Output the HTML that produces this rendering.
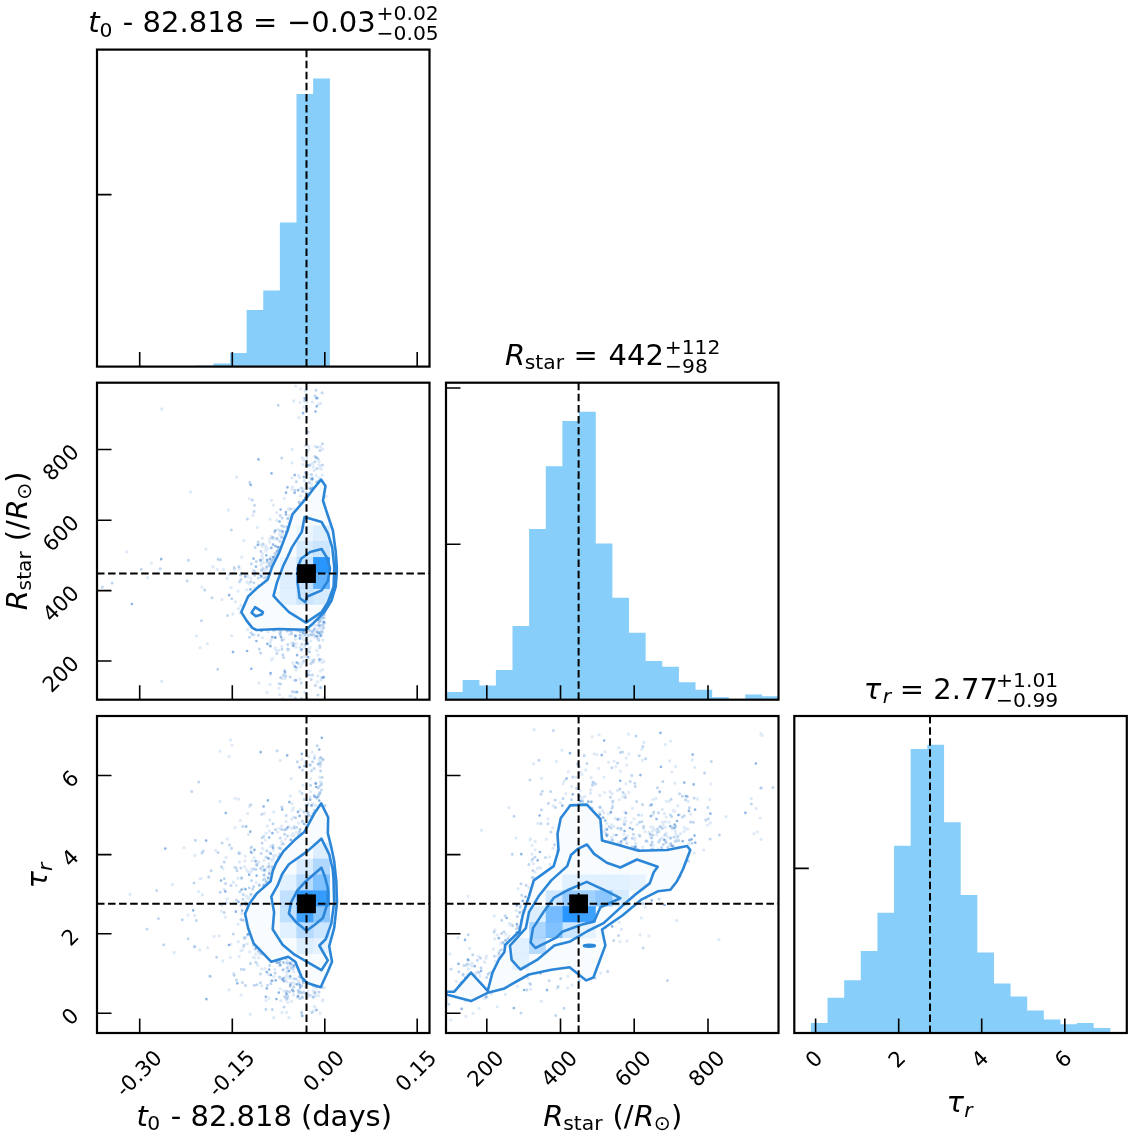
<!DOCTYPE html>
<html><head><meta charset="utf-8"><title>corner plot</title><style>html,body{margin:0;padding:0;background:#fff}svg{display:block}</style></head><body>
<svg width="1132" height="1136" viewBox="0 0 1132 1136" font-family="'DejaVu Sans','Liberation Sans',sans-serif" fill="#000">
<rect width="1132" height="1136" fill="#fff"/>
<path d="M196.75 366.6V365.6H213.53V366.6ZM213.38 366.6V363.6H230.15V366.6ZM230.00 366.6V353.0H246.78V366.6ZM246.62 366.6V310.0H263.40V366.6ZM263.25 366.6V290.5H280.02V366.6ZM279.88 366.6V222.5H296.65V366.6ZM296.50 366.6V94.0H313.27V366.6ZM313.12 366.6V78.5H329.90V366.6Z" fill="#87cefa"/>
<path d="M306.5 366.6V49.6" stroke="#000" stroke-width="2.0" stroke-dasharray="7.5 3.55"/>
<path d="M139.7 366.6v-14.5M232.3 366.6v-14.5M324.8 366.6v-14.5M417.2 366.6v-14.5M97.0 194.6h14.5" stroke="#000" stroke-width="1.6" fill="none"/>
<rect x="97.0" y="49.6" width="332.5" height="317.0" fill="none" stroke="#000" stroke-width="2.2"/>
<path d="M446.00 699.7V692.1H462.77V699.7ZM462.62 699.7V680.1H479.40V699.7ZM479.25 699.7V685.6H496.02V699.7ZM495.88 699.7V670.1H512.65V699.7ZM512.50 699.7V625.9H529.27V699.7ZM529.12 699.7V529.1H545.90V699.7ZM545.75 699.7V466.3H562.52V699.7ZM562.38 699.7V421.0H579.15V699.7ZM579.00 699.7V411.7H595.77V699.7ZM595.62 699.7V543.5H612.40V699.7ZM612.25 699.7V597.7H629.02V699.7ZM628.88 699.7V632.7H645.65V699.7ZM645.50 699.7V660.9H662.27V699.7ZM662.12 699.7V666.7H678.90V699.7ZM678.75 699.7V682.2H695.52V699.7ZM695.38 699.7V689.7H712.15V699.7ZM712.00 699.7V697.3H728.77V699.7ZM728.62 699.7V699.5H745.40V699.7ZM745.25 699.7V694.5H762.02V699.7ZM761.88 699.7V696.2H778.65V699.7Z" fill="#87cefa"/>
<path d="M578.6 699.7V382.7" stroke="#000" stroke-width="2.0" stroke-dasharray="7.5 3.55"/>
<path d="M486.8 699.7v-14.5M560.5 699.7v-14.5M634.2 699.7v-14.5M708.0 699.7v-14.5M446.0 388.0h14.5M446.0 544.2h14.5" stroke="#000" stroke-width="1.6" fill="none"/>
<rect x="446.0" y="382.7" width="332.5" height="317.0" fill="none" stroke="#000" stroke-width="2.2"/>
<path d="M810.92 1033.0V1022.9H827.70V1033.0ZM827.55 1033.0V997.8H844.32V1033.0ZM844.17 1033.0V980.2H860.95V1033.0ZM860.80 1033.0V950.9H877.57V1033.0ZM877.42 1033.0V912.7H894.20V1033.0ZM894.05 1033.0V845.7H910.82V1033.0ZM910.67 1033.0V748.9H927.45V1033.0ZM927.30 1033.0V744.7H944.07V1033.0ZM943.92 1033.0V822.2H960.70V1033.0ZM960.55 1033.0V895.1H977.32V1033.0ZM977.17 1033.0V952.5H993.95V1033.0ZM993.80 1033.0V983.5H1010.57V1033.0ZM1010.42 1033.0V996.5H1027.20V1033.0ZM1027.05 1033.0V1010.4H1043.83V1033.0ZM1043.67 1033.0V1019.6H1060.45V1033.0ZM1060.30 1033.0V1024.2H1077.08V1033.0ZM1076.92 1033.0V1022.9H1093.70V1033.0ZM1093.55 1033.0V1028.0H1110.33V1033.0Z" fill="#87cefa"/>
<path d="M930.0 1033.0V716.0" stroke="#000" stroke-width="2.0" stroke-dasharray="7.5 3.55"/>
<path d="M815.6 1033.0v-14.5M898.7 1033.0v-14.5M981.7 1033.0v-14.5M1064.8 1033.0v-14.5M794.3 868.4h14.5" stroke="#000" stroke-width="1.6" fill="none"/>
<rect x="794.3" y="716.0" width="332.5" height="317.0" fill="none" stroke="#000" stroke-width="2.2"/>
<clipPath id="c10"><rect x="97.0" y="382.7" width="332.5" height="317.0"/></clipPath>
<g clip-path="url(#c10)">
<path d="M314.7 628.5h0M240.0 612.9h0M311.8 661.0h0M269.6 572.0h0M314.8 446.3h0M324.0 661.4h0M300.5 495.9h0M324.7 502.9h0M321.6 659.6h0M254.1 587.8h0M305.9 471.9h0M292.0 477.8h0M302.2 663.5h0M320.1 687.5h0M313.6 624.8h0M288.3 509.0h0M279.1 688.3h0M276.8 520.5h0M249.0 583.3h0M303.1 491.3h0M243.8 540.7h0M292.1 489.4h0M304.4 640.0h0M267.6 566.2h0M304.3 647.1h0M229.3 574.5h0M239.2 568.7h0M310.3 478.1h0M288.7 522.2h0M303.6 459.9h0M200.0 647.8h0M299.8 679.1h0M296.1 669.9h0M321.5 626.6h0M319.8 618.6h0M272.6 658.5h0M314.7 629.5h0M325.3 507.1h0M269.8 542.2h0M263.0 559.0h0M309.4 670.9h0M265.6 548.6h0M262.4 538.3h0M305.0 692.4h0M320.3 465.8h0M318.8 464.8h0M207.4 643.8h0M276.8 512.7h0M290.0 515.5h0M317.7 629.1h0M264.3 572.4h0M321.5 469.3h0M313.1 467.0h0M277.9 529.4h0M273.4 505.2h0M310.5 464.2h0M291.6 696.0h0M295.6 639.2h0M260.4 560.2h0M300.3 635.7h0M302.0 637.7h0M236.6 477.1h0M321.3 616.6h0M303.0 464.6h0M304.6 481.0h0M285.0 678.7h0M321.2 616.0h0M247.9 575.7h0M262.5 637.7h0M304.1 634.6h0M291.1 631.6h0M276.2 649.9h0M268.4 573.9h0M272.7 563.4h0M321.9 619.5h0M249.5 498.8h0M196.6 635.9h0M315.1 631.4h0M319.3 478.0h0M269.3 539.1h0M292.7 642.9h0M262.3 571.1h0M319.2 661.1h0M299.7 477.5h0M280.2 535.6h0M322.8 669.6h0M260.4 544.6h0M303.2 636.1h0M238.4 608.6h0M161.7 409.0h0M321.3 625.7h0M268.1 631.7h0M266.6 567.1h0M300.1 631.5h0M283.9 639.2h0M289.6 634.3h0M282.6 533.4h0M286.6 526.1h0M270.4 566.0h0M305.5 484.9h0M267.0 692.4h0M303.0 458.5h0M295.9 647.3h0M272.3 560.1h0M274.6 560.9h0M324.6 623.2h0M274.4 538.9h0M320.5 671.1h0M302.1 457.8h0M279.5 632.7h0M201.9 587.1h0M231.9 635.7h0M318.1 655.2h0M258.9 683.1h0M279.5 534.2h0M298.8 417.7h0M320.5 633.2h0M282.3 639.3h0M227.2 578.4h0M271.5 500.4h0M322.0 620.5h0M223.4 569.4h0M322.2 662.4h0M299.2 502.7h0M323.8 697.5h0M241.7 557.2h0M304.3 480.7h0M300.0 636.8h0M260.7 561.2h0M232.9 614.0h0M274.9 558.6h0M313.9 622.7h0M291.5 643.1h0M300.5 388.9h0M272.9 561.6h0M301.7 502.2h0M324.3 613.3h0M212.8 566.7h0M288.4 518.2h0M254.2 634.6h0M314.2 470.5h0M306.8 402.5h0M324.8 614.5h0M305.2 391.0h0M268.4 577.4h0M322.3 475.2h0M269.9 557.8h0M277.3 539.4h0M316.1 475.6h0M308.3 650.5h0M320.4 446.8h0M261.1 565.0h0M274.9 557.4h0M323.3 614.6h0M282.4 678.4h0M299.9 647.3h0M307.1 457.7h0M271.1 639.8h0M306.7 460.6h0M282.7 698.7h0M278.7 549.7h0M279.0 552.7h0M284.2 670.1h0M311.6 635.4h0M304.4 656.4h0M322.6 630.7h0M262.4 553.7h0M292.4 487.2h0M292.6 645.3h0M317.3 681.9h0M247.0 582.2h0M308.8 446.5h0M320.6 403.4h0M301.6 649.4h0M240.7 605.5h0M272.3 537.2h0M232.6 573.1h0M270.1 519.2h0M307.3 493.4h0M247.6 629.8h0M319.6 627.9h0M292.2 449.4h0M249.1 624.0h0M279.2 548.9h0M326.2 496.3h0M279.7 551.0h0M307.4 670.3h0M322.8 640.2h0M275.0 648.1h0M190.6 492.0h0M308.0 672.8h0M257.4 527.4h0M301.2 650.5h0M235.5 601.9h0M263.2 562.7h0M294.0 680.5h0M269.6 645.0h0M298.4 475.6h0M253.0 591.7h0M293.8 401.0h0M271.6 659.8h0M322.3 617.1h0M271.0 556.9h0M309.9 647.7h0M262.1 562.9h0M292.8 663.0h0M270.0 684.6h0M322.6 449.2h0M321.0 680.2h0M221.9 599.6h0M205.9 549.1h0M231.1 587.7h0M311.9 631.0h0M267.9 548.4h0M305.0 445.6h0M303.8 488.8h0M273.4 630.4h0M270.5 674.6h0M310.3 477.9h0M273.9 563.2h0M307.7 451.3h0M228.4 510.2h0M307.6 642.3h0M279.7 694.6h0M317.0 650.5h0M251.0 578.3h0M315.4 625.4h0M307.9 636.6h0M319.5 480.2h0M238.1 591.1h0M310.0 631.3h0M270.7 642.1h0M271.1 565.9h0M312.2 478.0h0M312.8 463.5h0M282.6 536.4h0M276.2 553.7h0M302.0 638.4h0M310.9 640.8h0M151.4 563.1h0M147.5 577.6h0M322.1 615.7h0M314.9 637.3h0M266.5 568.8h0M252.9 515.2h0M311.5 484.2h0M306.9 639.8h0M289.7 696.0h0M278.6 683.6h0M322.2 632.6h0M295.8 386.1h0M296.2 643.8h0M318.4 404.5h0M314.6 629.9h0M306.7 397.1h0M262.0 555.2h0M300.2 629.9h0M161.6 681.2h0M245.5 575.2h0M262.7 557.5h0M319.1 461.6h0M217.2 569.3h0M293.8 508.9h0M308.2 474.1h0M234.4 569.5h0M300.1 402.3h0M268.3 561.2h0M281.9 646.3h0M300.5 666.6h0M126.6 551.9h0M304.0 406.9h0M246.8 589.9h0M292.2 462.9h0M268.6 562.7h0M265.3 569.9h0M266.1 551.0h0M280.1 635.2h0M271.2 536.3h0M320.1 621.6h0M307.3 650.3h0M317.9 675.9h0M264.4 574.6h0M305.9 649.2h0M317.3 482.3h0M319.7 468.5h0M262.3 546.5h0M312.2 402.1h0M284.3 498.6h0M276.6 650.6h0M322.0 628.9h0M248.1 576.8h0M278.7 650.3h0M309.2 657.4h0M265.6 545.8h0M294.2 665.8h0M309.1 449.3h0M268.4 577.4h0" stroke="rgba(60,130,210,0.17)" stroke-width="3.3" stroke-linecap="round" fill="none"/>
<path d="M276.9 653.4h0M321.7 677.5h0M306.3 693.8h0M312.4 631.4h0M285.0 673.1h0M323.8 497.1h0M319.9 450.6h0M311.2 634.6h0M311.3 479.6h0M320.6 616.9h0M313.2 634.5h0M262.9 568.6h0M299.8 503.3h0M296.3 481.8h0M307.2 698.3h0M307.2 643.6h0M274.2 630.0h0M315.6 635.7h0M247.4 518.9h0M321.8 632.0h0M304.6 400.7h0M275.2 637.5h0M309.3 482.4h0M274.1 557.5h0M274.8 553.6h0M322.8 614.5h0M316.8 481.8h0M317.2 447.0h0M280.1 530.8h0M320.9 687.5h0M298.3 663.5h0M258.4 635.2h0M315.4 685.5h0M306.2 640.3h0M304.4 630.5h0M275.1 554.6h0M254.0 511.4h0M231.7 598.8h0M249.7 482.6h0M278.1 549.8h0M318.1 625.3h0M270.0 563.0h0M263.1 544.1h0M258.4 585.7h0M272.4 563.3h0M302.6 491.3h0M160.2 568.8h0M251.1 632.7h0M305.6 473.0h0M272.9 559.2h0M280.5 683.9h0M282.9 654.7h0M234.2 567.4h0M316.8 468.6h0M287.6 518.5h0M256.3 561.4h0M310.3 487.8h0M295.3 698.0h0M278.2 405.2h0M308.6 635.1h0M280.2 634.1h0M266.9 562.1h0M264.4 577.9h0M322.9 624.8h0M300.3 631.4h0M274.7 559.6h0M312.5 479.8h0M323.8 677.0h0M301.9 644.2h0M249.5 637.3h0M324.4 621.9h0M239.6 581.7h0M271.0 566.5h0M306.1 465.7h0M309.4 675.1h0M285.8 676.3h0M322.5 617.4h0M318.2 459.1h0M272.0 538.0h0M301.6 657.3h0M295.3 635.7h0M201.5 620.8h0M312.4 675.1h0M291.6 633.7h0M240.9 579.4h0M318.0 638.8h0M322.4 443.8h0M304.8 400.4h0M294.8 692.1h0M320.5 631.8h0M266.2 577.3h0M290.6 509.1h0M283.6 657.4h0M305.3 634.0h0M227.6 615.6h0M254.6 575.3h0M305.7 631.8h0M303.7 629.9h0M300.9 631.8h0M309.6 465.5h0M309.4 488.2h0M306.0 497.5h0M282.0 640.3h0M261.4 570.1h0M260.6 653.1h0M288.0 650.1h0M311.1 625.4h0M238.9 566.6h0M311.5 474.6h0M271.4 561.0h0M292.4 691.6h0M259.3 648.9h0M313.9 659.7h0M240.4 574.9h0M300.1 635.3h0M282.0 649.2h0M318.8 640.3h0M260.9 551.3h0M306.1 492.8h0M253.9 582.8h0M306.1 632.1h0M286.9 631.0h0M259.9 574.6h0M322.1 392.7h0M274.6 532.0h0M301.7 698.4h0M319.7 634.2h0M212.0 597.8h0M315.0 461.8h0M317.9 694.9h0M254.9 572.1h0M261.8 576.2h0M318.4 619.5h0M318.7 622.4h0M287.8 644.5h0M301.4 488.1h0M283.5 526.4h0M314.2 629.2h0M267.2 577.2h0M309.2 629.9h0M324.2 618.0h0M301.2 682.9h0M305.4 635.0h0M293.7 643.4h0M258.2 542.1h0M218.1 559.2h0M315.9 390.3h0M277.0 538.2h0M280.8 631.8h0M318.7 481.6h0M299.1 502.3h0M323.8 627.5h0M313.4 662.0h0M281.7 457.9h0M319.8 645.7h0M313.5 634.2h0M280.2 515.4h0M315.0 396.1h0M286.9 527.4h0M251.4 563.8h0M250.7 581.7h0M314.8 456.4h0M252.5 634.7h0M112.2 583.0h0M320.6 618.2h0M102.4 587.0h0M252.4 499.9h0M296.7 667.4h0M309.6 652.0h0M319.9 620.9h0M282.1 517.9h0M319.9 647.6h0M294.9 630.1h0M317.5 398.1h0M253.9 570.6h0M253.9 570.5h0M283.4 675.3h0M279.9 541.3h0M320.2 635.9h0M254.5 505.3h0M258.4 578.0h0M280.6 677.4h0M294.9 490.2h0M303.7 660.9h0M281.5 537.6h0M288.7 649.3h0M322.5 464.9h0M204.7 590.0h0M188.5 560.2h0M308.0 432.1h0M281.6 525.7h0M269.3 565.1h0M323.5 615.0h0M266.6 567.1h0M217.7 669.2h0M187.2 581.0h0M290.2 676.9h0M310.9 663.5h0M141.3 569.3h0M311.2 679.5h0M231.3 530.1h0M241.2 573.7h0M277.3 546.9h0M220.4 559.8h0M291.0 630.8h0M255.1 547.5h0M272.8 537.3h0M287.5 648.9h0" stroke="rgba(60,130,210,0.33)" stroke-width="3.0" stroke-linecap="round" fill="none"/>
<path d="M267.1 559.8h0M286.0 492.7h0M312.7 487.9h0M276.8 551.5h0M294.6 492.8h0M279.6 521.5h0M257.8 544.9h0M307.6 643.8h0M285.9 512.2h0M270.6 673.1h0M261.1 576.3h0M307.0 675.2h0M267.3 643.8h0M266.3 555.3h0M275.2 530.5h0M297.1 655.2h0M294.7 475.1h0M312.3 478.7h0M272.3 637.2h0M315.5 411.5h0M256.4 641.0h0M286.3 531.7h0M299.8 638.5h0M273.2 557.0h0M255.9 566.7h0M250.5 589.4h0M270.5 646.2h0M284.9 671.5h0M319.6 625.5h0M297.0 692.1h0M307.7 465.3h0M316.4 457.7h0M298.2 490.2h0M295.1 666.7h0M319.6 659.4h0M316.7 406.3h0M161.2 559.2h0M233.0 652.1h0M318.5 632.9h0M278.5 547.0h0M229.2 595.2h0M284.3 538.5h0M286.0 514.5h0M272.8 565.5h0M323.6 622.3h0M318.0 619.8h0M297.5 630.4h0M260.5 560.2h0M288.4 630.2h0M306.7 409.0h0M303.3 631.4h0M295.5 635.9h0M304.6 398.3h0M261.4 631.0h0M321.1 635.5h0M317.1 636.3h0M275.4 546.1h0M296.7 662.5h0M303.1 633.1h0M305.6 644.5h0M250.7 484.9h0M251.3 668.8h0M258.5 459.4h0M275.3 637.6h0M303.9 477.0h0M281.1 637.1h0M273.0 544.5h0M267.6 573.4h0M131.9 604.0h0M303.7 500.4h0M247.1 651.0h0M282.6 531.4h0M305.3 497.8h0M316.5 398.2h0M323.2 677.6h0M293.4 645.8h0M253.5 558.6h0M271.5 473.4h0M317.3 632.2h0M307.8 657.1h0M271.3 547.9h0M245.2 576.6h0M287.5 487.3h0M301.5 649.5h0M299.4 630.1h0M280.6 509.5h0M295.9 680.3h0M310.9 489.0h0M270.0 559.0h0M303.1 413.2h0" stroke="rgba(60,130,210,0.58)" stroke-width="2.7" stroke-linecap="round" fill="none"/>
<path d="M321.0 479.6L325.5 486.0L323.0 500.8L327.2 513.5L332.9 530.5L335.7 551.7L336.8 567.2L336.8 572.5L335.7 586.6L331.4 600.8L324.4 612.1L313.1 623.4L306.0 629.8L279.2 629.0L256.5 630.0L252.3 627.9L246.6 620.6L241.3 612.1L248.1 596.5L256.5 588.6L267.8 579.4L272.0 567.2L279.2 552.5L287.6 530.5L292.6 514.2L306.5 498.0L313.5 488.8Z" fill="#fff"/>
<path d="M321.0 479.6L325.5 486.0L323.0 500.8L327.2 513.5L332.9 530.5L335.7 551.7L336.8 567.2L336.8 572.5L335.7 586.6L331.4 600.8L324.4 612.1L313.1 623.4L306.0 629.8L279.2 629.0L256.5 630.0L252.3 627.9L246.6 620.6L241.3 612.1L248.1 596.5L256.5 588.6L267.8 579.4L272.0 567.2L279.2 552.5L287.6 530.5L292.6 514.2L306.5 498.0L313.5 488.8Z" fill="rgba(30,144,255,.03)"/>
<rect x="313.12" y="557.05" width="16.82" height="16.05" fill="rgba(30,144,255,0.95)"/><rect x="313.12" y="572.90" width="16.82" height="16.05" fill="rgba(30,144,255,0.68)"/><rect x="296.50" y="557.05" width="16.82" height="16.05" fill="rgba(30,144,255,0.22)"/><rect x="296.50" y="572.90" width="16.82" height="16.05" fill="rgba(30,144,255,0.24)"/><rect x="296.50" y="588.75" width="16.82" height="16.05" fill="rgba(30,144,255,0.20)"/><rect x="313.12" y="541.20" width="16.82" height="16.05" fill="rgba(30,144,255,0.20)"/><rect x="313.12" y="525.35" width="16.82" height="16.05" fill="rgba(30,144,255,0.12)"/><rect x="296.50" y="541.20" width="16.82" height="16.05" fill="rgba(30,144,255,0.15)"/><rect x="279.88" y="572.90" width="16.82" height="16.05" fill="rgba(30,144,255,0.12)"/><rect x="279.88" y="588.75" width="16.82" height="16.05" fill="rgba(30,144,255,0.10)"/><rect x="313.12" y="588.75" width="16.82" height="16.05" fill="rgba(30,144,255,0.15)"/><rect x="296.50" y="525.35" width="16.82" height="16.05" fill="rgba(30,144,255,0.06)"/><rect x="279.88" y="557.05" width="16.82" height="16.05" fill="rgba(30,144,255,0.06)"/>
<path d="M321.0 479.6L325.5 486.0L323.0 500.8L327.2 513.5L332.9 530.5L335.7 551.7L336.8 567.2L336.8 572.5L335.7 586.6L331.4 600.8L324.4 612.1L313.1 623.4L306.0 629.8L279.2 629.0L256.5 630.0L252.3 627.9L246.6 620.6L241.3 612.1L248.1 596.5L256.5 588.6L267.8 579.4L272.0 567.2L279.2 552.5L287.6 530.5L292.6 514.2L306.5 498.0L313.5 488.8ZM304.6 517.0L321.6 522.0L327.9 533.3L332.2 547.4L334.3 567.2L333.6 586.6L327.9 602.2L321.6 612.1L306.0 622.7L289.0 612.1L279.2 602.2L273.5 595.8L277.0 582.4L283.4 565.4L287.6 557.0L291.9 547.4L301.8 531.9ZM321.6 549.0L310.2 552.0L301.1 558.8L297.5 568.3L297.5 582.4L299.6 598.0L305.3 602.2L307.4 596.5L321.6 590.4L327.9 581.0L330.0 568.3L327.2 558.2ZM255.1 607.1L262.9 612.1L262.2 614.2L255.8 616.3L251.6 612.8Z" fill="none" stroke="#2c86d8" stroke-width="2.6" stroke-linejoin="round"/>
<path d="M306.5 699.7V382.7M97.0 573.6H429.5" stroke="#000" stroke-width="2.0" stroke-dasharray="7.5 3.55" fill="none"/>
<rect x="297.1" y="564.2" width="18.8" height="18.8" fill="#000"/>
</g>
<path d="M139.7 699.7v-14.5M232.3 699.7v-14.5M324.8 699.7v-14.5M417.2 699.7v-14.5M97.0 449.5h14.5M97.0 520.3h14.5M97.0 590.6h14.5M97.0 661.0h14.5" stroke="#000" stroke-width="1.6" fill="none"/>
<rect x="97.0" y="382.7" width="332.5" height="317.0" fill="none" stroke="#000" stroke-width="2.2"/>
<clipPath id="c20"><rect x="97.0" y="716.0" width="332.5" height="317.0"/></clipPath>
<g clip-path="url(#c20)">
<path d="M242.5 904.0h0M273.6 858.4h0M302.0 759.4h0M281.6 844.6h0M246.3 904.3h0M198.7 891.6h0M288.0 998.4h0M312.4 816.7h0M264.0 860.5h0M319.9 793.4h0M220.1 751.1h0M199.7 949.8h0M311.5 995.9h0M319.7 777.2h0M264.4 884.2h0M320.1 1013.4h0M265.2 883.6h0M248.2 897.0h0M275.6 863.9h0M248.6 834.4h0M268.9 882.0h0M312.0 805.9h0M293.6 995.0h0M288.8 826.3h0M301.4 993.3h0M263.8 887.0h0M250.3 1014.3h0M294.1 835.7h0M302.9 785.2h0M286.6 972.1h0M321.2 783.2h0M287.0 973.0h0M240.0 853.2h0M277.7 832.1h0M239.1 956.6h0M275.6 961.2h0M239.1 852.1h0M269.7 852.8h0M307.9 813.3h0M286.6 1012.3h0M256.6 865.4h0M307.9 803.7h0M256.3 882.7h0M266.3 882.4h0M221.5 911.1h0M232.0 745.1h0M200.1 878.6h0M308.8 756.7h0M284.1 962.9h0M257.6 964.1h0M261.7 985.9h0M289.4 970.5h0M280.9 978.3h0M233.2 882.4h0M274.7 969.4h0M241.0 995.2h0M224.1 889.5h0M259.1 885.5h0M278.6 847.6h0M269.0 863.3h0M287.9 1002.3h0M313.3 990.9h0M314.2 1006.5h0M293.4 966.3h0M319.1 759.6h0M273.9 855.2h0M251.4 871.6h0M227.3 839.0h0M310.0 765.1h0M290.4 796.0h0M240.1 820.4h0M270.0 868.2h0M276.6 962.4h0M281.0 848.7h0M245.0 860.8h0M251.8 869.0h0M233.5 973.5h0M234.4 867.1h0M244.4 938.9h0M298.3 980.9h0M320.3 766.7h0M266.0 833.2h0M315.8 987.9h0M252.2 860.8h0M202.4 894.9h0M245.2 856.1h0M253.4 957.5h0M272.4 860.8h0M285.3 977.7h0M286.2 980.7h0M266.5 880.7h0M315.7 805.6h0M269.4 831.2h0M310.7 778.8h0M258.3 862.4h0M279.2 965.5h0M273.6 1017.6h0M291.8 819.1h0M249.7 951.8h0M305.1 986.8h0M293.4 841.0h0M315.6 987.0h0M238.0 924.3h0M322.5 1000.9h0M230.5 740.0h0M286.2 821.4h0M194.8 855.4h0M313.2 1011.2h0M287.0 969.0h0M281.9 1012.7h0M292.5 982.5h0M280.3 988.8h0M321.7 782.3h0M293.7 817.3h0M285.9 979.0h0M307.2 997.2h0M288.1 969.7h0M268.8 867.5h0M306.2 812.3h0M219.3 935.8h0M302.0 998.0h0M270.5 846.5h0M294.0 826.2h0M296.1 832.5h0M269.3 871.7h0M220.2 801.4h0M254.3 895.9h0M230.8 944.1h0M298.1 970.8h0M188.0 915.1h0M265.4 840.1h0M284.0 991.0h0M273.6 855.7h0M271.0 981.3h0M302.3 998.0h0M221.5 905.3h0M215.7 850.3h0M241.0 950.7h0M265.0 870.4h0M174.2 952.5h0M293.6 971.5h0M233.4 882.1h0M268.0 974.0h0M288.9 1017.7h0M294.2 983.5h0M315.3 993.6h0M320.7 757.9h0M227.0 899.0h0M305.2 762.5h0M315.0 992.0h0M242.0 913.5h0M286.3 976.4h0M214.2 936.3h0M288.9 976.4h0M262.3 848.4h0M263.9 869.2h0M272.6 868.1h0M290.6 966.0h0M248.3 871.7h0M299.1 971.2h0M280.8 1000.7h0M313.2 803.8h0M273.7 812.0h0M322.9 760.0h0M288.3 964.5h0M201.2 878.7h0M270.8 877.2h0M293.5 808.1h0M290.8 964.3h0M230.3 957.3h0M291.6 1001.4h0M319.3 805.9h0M303.3 981.9h0M300.2 809.9h0M251.0 895.3h0M326.4 813.6h0M300.6 978.3h0M249.3 806.4h0M235.1 827.7h0M291.9 835.6h0M242.3 950.0h0M307.7 991.7h0M269.3 864.0h0M281.8 826.1h0M298.5 823.2h0M290.0 978.7h0M316.9 798.6h0M194.7 915.5h0M130.1 894.5h0M321.9 985.6h0M307.3 992.7h0M247.6 813.6h0M209.5 976.2h0M310.0 796.8h0M287.1 960.7h0M244.7 866.9h0M269.8 820.0h0M283.4 969.3h0M292.6 961.6h0M244.3 888.7h0M252.3 853.0h0M310.7 791.6h0M301.7 978.3h0M271.1 869.4h0M305.5 815.9h0M266.2 1000.6h0M287.1 968.6h0M280.1 760.5h0M312.1 752.2h0M292.2 810.3h0M242.1 919.8h0M257.8 965.5h0M223.1 868.8h0M284.5 996.1h0M285.5 839.1h0M247.2 943.9h0M254.5 957.9h0M222.8 961.0h0M247.1 923.6h0M238.4 941.6h0M268.0 858.5h0M288.6 976.3h0M281.5 841.6h0M236.2 885.5h0M314.7 755.9h0M308.6 814.5h0M299.4 990.7h0M270.5 974.7h0M250.6 848.4h0M267.7 877.1h0M229.2 756.5h0M256.0 864.0h0M291.5 828.3h0M273.2 850.0h0M273.8 976.5h0M238.5 799.2h0M258.4 957.7h0M291.3 778.7h0M229.0 989.9h0M283.5 978.6h0M311.7 995.9h0M258.6 862.0h0M292.1 803.6h0M264.6 875.0h0M313.4 996.4h0M318.2 796.3h0M172.6 884.7h0M307.1 825.5h0M194.2 946.9h0M320.3 781.7h0M289.9 986.7h0M315.0 1007.3h0M292.7 960.2h0M265.0 968.7h0M301.7 1012.0h0M264.6 870.7h0M275.5 855.3h0M262.0 870.2h0M318.4 995.7h0M270.9 859.4h0M302.5 822.5h0M307.3 817.6h0M249.2 898.8h0M238.0 878.2h0M225.3 917.2h0M184.0 847.6h0M318.0 764.3h0M318.9 763.9h0M286.3 829.2h0M266.9 867.7h0M235.1 798.3h0M261.7 968.9h0M299.7 791.4h0M315.3 996.1h0M305.7 805.1h0M292.7 833.7h0M264.3 813.5h0M247.7 898.3h0M246.8 870.2h0M279.3 828.3h0M262.9 848.7h0M241.5 877.7h0M239.5 862.0h0M246.0 896.1h0M322.8 999.7h0M269.0 998.3h0M270.4 880.1h0M267.2 826.0h0M286.9 981.7h0M309.4 820.3h0M254.1 857.7h0M226.0 857.4h0M299.4 830.2h0M207.8 947.7h0M324.5 987.9h0M255.8 954.2h0" stroke="rgba(60,130,210,0.17)" stroke-width="3.3" stroke-linecap="round" fill="none"/>
<path d="M233.3 933.9h0M319.8 785.9h0M301.8 985.7h0M296.6 827.2h0M236.5 979.9h0M281.7 829.5h0M241.3 969.3h0M304.4 980.3h0M302.6 770.1h0M260.5 973.9h0M299.0 983.2h0M281.8 806.9h0M259.4 885.0h0M312.5 761.7h0M279.4 977.0h0M283.2 962.2h0M211.2 870.8h0M284.0 1006.9h0M198.8 782.1h0M293.8 987.0h0M287.4 967.4h0M298.6 834.5h0M182.3 919.7h0M257.1 864.8h0M234.2 975.3h0M254.0 869.1h0M241.6 878.2h0M321.4 789.9h0M253.5 945.3h0M302.3 997.0h0M264.5 879.1h0M195.4 840.3h0M280.2 960.8h0M287.5 996.6h0M221.5 866.7h0M283.4 843.7h0M208.7 877.0h0M240.9 905.0h0M311.9 1012.4h0M224.3 878.7h0M266.1 856.9h0M244.5 937.4h0M229.5 845.1h0M278.5 856.8h0M255.9 962.2h0M313.3 986.1h0M294.4 827.9h0M252.7 888.9h0M303.8 811.7h0M319.8 792.4h0M303.1 982.8h0M188.2 938.7h0M239.0 853.4h0M314.2 795.3h0M293.1 968.5h0M231.0 885.6h0M314.9 811.5h0M261.2 853.6h0M243.9 945.1h0M272.2 866.6h0M158.4 918.5h0M284.3 829.8h0M320.6 771.1h0M300.2 976.2h0M240.8 867.9h0M323.0 759.2h0M280.2 838.0h0M320.6 762.3h0M243.1 894.6h0M275.5 829.5h0M300.3 829.3h0M250.4 963.6h0M306.2 983.2h0M311.5 770.8h0M304.9 993.0h0M242.9 899.2h0M242.4 982.4h0M243.2 920.2h0M261.8 814.3h0M216.6 957.2h0M253.7 886.6h0M260.0 953.5h0M258.2 951.3h0M262.1 953.9h0M270.9 983.7h0M236.4 900.0h0M311.0 816.2h0M308.2 815.5h0M201.9 853.0h0M240.9 919.5h0M297.4 996.9h0M163.7 944.8h0M277.1 750.8h0M314.5 758.2h0M242.8 826.6h0M256.0 869.6h0M295.9 978.9h0M321.3 784.4h0M273.5 868.6h0M275.1 973.1h0M293.1 967.2h0M322.1 777.4h0M262.1 843.1h0M263.8 875.0h0M196.4 920.6h0M251.6 880.4h0M283.3 977.9h0M231.5 848.3h0M266.4 881.8h0M301.6 1012.9h0M298.1 990.4h0M302.4 821.1h0M310.6 785.2h0M319.0 991.9h0M294.0 978.7h0M291.3 968.2h0M316.0 783.7h0M286.5 999.3h0M300.6 992.3h0M314.3 810.3h0M318.5 763.8h0M263.4 879.8h0M265.9 1009.3h0M304.1 799.6h0M224.2 861.9h0M286.9 963.1h0M320.3 764.0h0M245.4 902.4h0M255.0 949.2h0M313.3 997.2h0M285.9 958.4h0M298.2 836.0h0M317.2 745.7h0M272.9 845.2h0M266.9 850.8h0M313.0 813.6h0M218.0 852.4h0M236.2 868.1h0M282.9 970.0h0M260.4 982.8h0M194.0 883.0h0M250.8 894.1h0M320.5 757.6h0M194.8 946.5h0M251.5 846.9h0M322.1 987.2h0M222.1 842.9h0M243.7 946.3h0M191.8 791.5h0M245.2 937.5h0M309.2 994.9h0M285.3 997.2h0M290.3 983.5h0M262.1 837.7h0M298.6 992.8h0M263.7 836.4h0M225.6 883.6h0M310.1 764.9h0M224.2 912.4h0M226.1 903.1h0M220.2 892.2h0M250.8 804.7h0M156.7 890.4h0M256.8 984.8h0M302.1 793.6h0M203.1 851.1h0M318.3 787.8h0M244.1 969.5h0M299.6 831.9h0M273.0 823.7h0M314.1 768.5h0M249.2 887.8h0M267.5 985.3h0M303.3 992.3h0M287.3 994.9h0M254.3 985.3h0M287.5 835.9h0M295.6 817.7h0M325.2 805.4h0M318.2 796.6h0M284.6 834.2h0M291.0 964.0h0M314.7 992.7h0M308.0 812.6h0M297.4 761.7h0M260.5 868.2h0M262.8 866.3h0M319.6 793.4h0M279.4 854.0h0M286.7 991.3h0M268.6 866.3h0M285.4 829.4h0M289.5 991.8h0M269.6 965.6h0M298.9 976.7h0M247.6 935.1h0M296.7 966.9h0M272.3 1009.4h0M245.4 985.4h0M318.6 794.7h0M279.8 848.3h0M299.7 998.6h0M147.0 929.0h0M210.4 976.3h0M286.1 815.4h0M237.0 870.8h0M239.9 891.7h0" stroke="rgba(60,130,210,0.33)" stroke-width="3.0" stroke-linecap="round" fill="none"/>
<path d="M225.3 891.4h0M298.0 811.9h0M273.0 847.7h0M290.3 976.4h0M299.6 815.9h0M266.7 972.0h0M321.8 737.8h0M245.7 904.4h0M165.3 848.6h0M277.0 962.4h0M254.4 849.9h0M270.7 853.7h0M307.4 805.3h0M245.6 889.3h0M288.8 971.0h0M304.3 824.0h0M235.9 911.7h0M206.4 999.2h0M264.4 870.2h0M287.2 755.4h0M268.2 878.1h0M251.0 852.2h0M296.8 984.3h0M275.7 980.3h0M193.2 910.4h0M272.1 980.7h0M293.3 991.2h0M270.8 975.0h0M289.8 963.1h0M298.1 996.0h0M267.9 800.4h0M225.8 813.0h0M255.6 861.0h0M316.6 986.5h0M282.5 979.7h0M278.8 992.6h0M319.2 800.6h0M238.5 901.9h0M293.9 965.3h0M257.5 892.9h0M319.3 749.5h0M268.4 858.3h0M241.6 889.6h0M302.2 1015.8h0M237.3 983.3h0M221.0 880.5h0M315.6 783.3h0M269.1 837.5h0M300.2 987.6h0M316.5 1010.1h0M276.4 999.1h0M263.7 885.7h0M290.8 839.9h0M282.2 809.6h0M260.7 752.2h0M247.9 934.2h0M265.9 996.8h0M301.8 753.9h0M310.2 799.7h0M269.3 873.7h0M263.6 806.5h0M299.6 767.3h0M316.5 797.5h0M287.6 827.6h0M256.6 875.6h0M299.7 985.2h0M311.5 805.3h0M280.4 965.2h0M250.3 831.7h0M286.3 993.7h0M256.1 948.0h0M290.4 985.4h0M279.4 962.9h0M289.4 802.1h0M292.3 989.9h0M269.2 969.6h0M304.5 766.0h0M302.9 980.7h0M316.2 787.0h0M272.4 833.2h0M314.5 796.6h0M284.0 981.2h0M242.1 910.6h0M290.0 962.8h0M249.2 874.7h0M206.1 840.6h0M266.8 988.4h0M229.0 945.0h0M246.1 826.5h0" stroke="rgba(60,130,210,0.58)" stroke-width="2.7" stroke-linecap="round" fill="none"/>
<path d="M321.2 803.4L328.2 817.5L327.8 833.1L331.3 847.2L334.2 861.3L336.3 881.2L337.0 902.4L334.2 927.8L329.2 946.2L332.0 961.8L327.8 971.7L320.7 987.2L307.3 983.0L301.7 977.3L295.3 961.8L288.2 956.8L271.3 961.8L253.6 943.4L248.0 927.8L245.1 913.7L249.4 903.8L256.4 893.9L270.6 881.2L272.7 871.0L276.2 862.8L283.3 851.4L294.6 840.1L304.5 831.7L314.4 813.3Z" fill="#fff"/>
<path d="M321.2 803.4L328.2 817.5L327.8 833.1L331.3 847.2L334.2 861.3L336.3 881.2L337.0 902.4L334.2 927.8L329.2 946.2L332.0 961.8L327.8 971.7L320.7 987.2L307.3 983.0L301.7 977.3L295.3 961.8L288.2 956.8L271.3 961.8L253.6 943.4L248.0 927.8L245.1 913.7L249.4 903.8L256.4 893.9L270.6 881.2L272.7 871.0L276.2 862.8L283.3 851.4L294.6 840.1L304.5 831.7L314.4 813.3Z" fill="rgba(30,144,255,.03)"/>
<rect x="296.50" y="890.35" width="16.82" height="16.05" fill="rgba(30,144,255,0.92)"/><rect x="296.50" y="906.20" width="16.82" height="16.05" fill="rgba(30,144,255,0.85)"/><rect x="313.12" y="890.35" width="16.82" height="16.05" fill="rgba(30,144,255,0.90)"/><rect x="313.12" y="874.50" width="16.82" height="16.05" fill="rgba(30,144,255,0.55)"/><rect x="313.12" y="858.65" width="16.82" height="16.05" fill="rgba(30,144,255,0.33)"/><rect x="313.12" y="906.20" width="16.82" height="16.05" fill="rgba(30,144,255,0.50)"/><rect x="296.50" y="874.50" width="16.82" height="16.05" fill="rgba(30,144,255,0.30)"/><rect x="296.50" y="858.65" width="16.82" height="16.05" fill="rgba(30,144,255,0.14)"/><rect x="296.50" y="922.05" width="16.82" height="16.05" fill="rgba(30,144,255,0.30)"/><rect x="279.88" y="890.35" width="16.82" height="16.05" fill="rgba(30,144,255,0.25)"/><rect x="279.88" y="906.20" width="16.82" height="16.05" fill="rgba(30,144,255,0.25)"/><rect x="279.88" y="874.50" width="16.82" height="16.05" fill="rgba(30,144,255,0.10)"/><rect x="279.88" y="922.05" width="16.82" height="16.05" fill="rgba(30,144,255,0.10)"/><rect x="296.50" y="937.90" width="16.82" height="16.05" fill="rgba(30,144,255,0.12)"/><rect x="313.12" y="922.05" width="16.82" height="16.05" fill="rgba(30,144,255,0.20)"/><rect x="313.12" y="842.80" width="16.82" height="16.05" fill="rgba(30,144,255,0.12)"/><rect x="313.12" y="937.90" width="16.82" height="16.05" fill="rgba(30,144,255,0.08)"/>
<path d="M321.2 803.4L328.2 817.5L327.8 833.1L331.3 847.2L334.2 861.3L336.3 881.2L337.0 902.4L334.2 927.8L329.2 946.2L332.0 961.8L327.8 971.7L320.7 987.2L307.3 983.0L301.7 977.3L295.3 961.8L288.2 956.8L271.3 961.8L253.6 943.4L248.0 927.8L245.1 913.7L249.4 903.8L256.4 893.9L270.6 881.2L272.7 871.0L276.2 862.8L283.3 851.4L294.6 840.1L304.5 831.7L314.4 813.3ZM321.4 838.7L329.2 854.3L332.8 869.8L333.5 878.4L334.2 902.4L331.3 923.6L325.7 939.2L319.3 945.5L327.8 960.4L321.4 970.2L294.6 954.7L282.6 944.8L272.7 929.3L274.1 912.3L271.3 896.7L277.6 885.4L282.2 874.0L288.9 864.2L307.3 851.4ZM321.4 867.8L305.9 881.2L297.4 890.4L291.1 902.4L288.9 913.7L296.0 922.2L306.6 930.7L314.4 925.0L322.9 918.0L327.8 902.4L327.8 888.3L325.0 877.0Z" fill="none" stroke="#2c86d8" stroke-width="2.6" stroke-linejoin="round"/>
<path d="M306.5 1033.0V716.0M97.0 903.8H429.5" stroke="#000" stroke-width="2.0" stroke-dasharray="7.5 3.55" fill="none"/>
<rect x="297.1" y="894.4" width="18.8" height="18.8" fill="#000"/>
</g>
<path d="M139.7 1033.0v-14.5M232.3 1033.0v-14.5M324.8 1033.0v-14.5M417.2 1033.0v-14.5M97.0 775.5h14.5M97.0 854.6h14.5M97.0 933.7h14.5M97.0 1013.2h14.5" stroke="#000" stroke-width="1.6" fill="none"/>
<rect x="97.0" y="716.0" width="332.5" height="317.0" fill="none" stroke="#000" stroke-width="2.2"/>
<clipPath id="c21"><rect x="446.0" y="716.0" width="332.5" height="317.0"/></clipPath>
<g clip-path="url(#c21)">
<path d="M674.7 811.6h0M463.1 975.3h0M680.4 833.7h0M606.1 834.6h0M761.0 839.3h0M608.6 762.3h0M726.1 816.6h0M650.6 834.8h0M571.6 786.5h0M590.4 793.0h0M493.4 949.0h0M494.3 916.1h0M645.6 841.3h0M619.3 799.6h0M694.8 767.3h0M666.2 833.2h0M653.2 814.5h0M614.0 835.2h0M473.0 1013.4h0M634.8 838.2h0M537.8 823.5h0M621.3 829.7h0M592.4 782.7h0M694.2 853.0h0M556.4 761.3h0M615.8 766.7h0M567.8 976.3h0M626.2 758.1h0M757.4 831.9h0M653.0 827.3h0M529.6 983.2h0M617.6 790.5h0M661.1 827.1h0M651.2 844.0h0M710.9 783.9h0M509.1 936.1h0M624.9 812.1h0M653.8 829.6h0M635.5 843.2h0M533.4 863.8h0M598.5 768.3h0M491.4 994.1h0M624.3 823.2h0M494.9 930.0h0M608.3 813.8h0M491.3 971.9h0M641.2 917.9h0M620.0 941.6h0M468.6 969.0h0M637.9 849.3h0M625.9 783.8h0M628.6 734.2h0M529.0 887.3h0M673.4 846.4h0M486.4 956.1h0M652.3 830.9h0M612.1 840.9h0M529.9 840.1h0M676.7 838.0h0M760.2 788.3h0M519.5 913.0h0M484.2 998.4h0M564.4 781.0h0M688.9 843.9h0M569.9 805.2h0M634.1 818.8h0M631.0 822.7h0M531.5 860.9h0M499.1 955.9h0M475.8 974.2h0M613.1 842.4h0M485.2 998.4h0M465.8 1016.3h0M505.9 934.1h0M653.3 845.2h0M664.4 813.7h0M624.7 795.6h0M636.0 844.9h0M653.0 799.4h0M677.7 805.7h0M621.5 929.4h0M560.4 802.8h0M600.6 973.1h0M563.1 783.8h0M667.4 836.5h0M709.7 799.5h0M643.8 742.5h0M697.4 799.0h0M684.1 827.4h0M611.9 824.7h0M596.7 754.7h0M599.9 795.5h0M495.6 961.1h0M664.9 827.4h0M641.9 749.1h0M666.2 817.1h0M624.3 820.8h0M628.8 754.0h0M580.2 790.8h0M634.7 839.5h0M675.6 766.6h0M611.5 837.4h0M531.9 845.3h0M599.3 807.0h0M703.8 850.0h0M497.1 935.0h0M520.4 904.5h0M568.2 771.7h0M530.8 989.2h0M619.3 922.4h0M665.2 821.8h0M594.2 753.8h0M549.9 864.5h0M760.9 733.7h0M557.3 988.2h0M662.4 822.2h0M676.6 920.5h0M684.1 831.4h0M449.9 954.0h0M661.9 838.0h0M510.2 925.2h0M480.0 976.0h0M623.9 834.2h0M500.8 943.4h0M584.7 796.4h0M466.3 965.8h0M648.9 832.3h0M502.9 943.0h0M710.3 823.0h0M553.1 848.3h0M567.7 988.0h0M458.0 937.8h0M618.9 747.7h0M604.7 792.6h0M535.1 872.2h0M539.2 867.7h0M618.7 843.7h0M614.0 761.3h0M622.8 796.9h0M548.0 818.8h0M675.4 831.0h0M666.4 801.2h0M627.1 836.2h0M541.5 778.4h0M472.1 963.2h0M672.3 829.2h0M533.4 763.7h0M460.1 982.9h0M534.1 729.7h0M481.5 830.4h0M626.1 839.8h0M582.3 802.3h0M692.2 760.0h0M672.0 771.8h0M627.0 941.0h0M537.5 868.4h0M634.6 838.1h0M687.8 829.1h0M601.6 825.7h0M530.4 838.8h0M654.9 829.9h0M610.8 841.0h0M632.4 808.3h0M565.7 793.6h0M665.2 744.7h0M579.5 803.6h0M572.1 985.1h0M634.9 846.8h0M625.8 821.4h0M620.0 819.0h0M626.7 765.2h0M486.0 958.3h0M484.5 961.8h0M615.4 818.4h0M604.5 831.4h0M497.9 956.4h0M668.9 822.1h0M662.3 809.4h0M509.1 807.7h0M647.2 841.8h0M516.3 910.5h0M610.0 791.6h0M754.0 833.8h0M546.3 839.2h0M541.4 1001.2h0M605.6 828.8h0M612.8 803.0h0M674.9 783.2h0M620.5 771.2h0M519.9 928.2h0M648.8 935.8h0M659.4 831.5h0M585.6 770.0h0M683.1 903.9h0M599.5 812.7h0M663.3 822.1h0M665.7 842.9h0M751.3 798.7h0M690.7 814.2h0M675.7 833.8h0M520.7 912.3h0M603.8 777.1h0M518.2 888.7h0M532.0 854.2h0M625.2 817.8h0M606.8 823.4h0M688.1 801.4h0M467.5 974.3h0M645.2 907.2h0M511.2 924.3h0M592.2 736.7h0M471.7 966.1h0M469.5 948.5h0M663.1 824.5h0M505.3 994.4h0M447.0 998.6h0M670.6 838.6h0M509.5 923.7h0M602.6 810.7h0M669.8 845.4h0M581.3 799.8h0M549.6 856.9h0M641.8 815.3h0M603.9 812.7h0M529.7 893.5h0M517.3 986.3h0M612.0 793.7h0M761.9 735.5h0M650.8 837.3h0M614.0 826.7h0M590.7 789.7h0M665.2 840.2h0M760.1 818.1h0M610.6 812.6h0M450.8 1020.1h0M562.0 750.2h0M494.5 938.8h0M651.0 827.0h0M552.9 827.8h0M516.1 838.1h0M662.0 849.0h0M599.1 734.8h0M686.0 828.8h0M590.4 793.2h0M670.1 844.3h0M484.8 962.3h0M645.0 831.6h0M669.1 801.2h0M582.6 797.7h0M707.4 825.2h0M605.0 751.9h0M531.7 877.4h0M553.3 805.9h0M608.3 841.1h0M468.0 896.3h0M718.9 939.7h0M498.9 951.8h0M581.9 774.5h0M618.4 842.8h0M535.2 849.8h0M669.6 760.9h0M679.4 814.9h0M642.5 760.4h0M540.8 868.1h0M497.3 1006.8h0M535.2 841.4h0M469.7 964.5h0M637.1 824.7h0M623.3 839.5h0M640.1 934.9h0M624.1 823.9h0M528.0 978.4h0M653.5 848.8h0M478.5 956.2h0M465.4 1000.9h0M642.7 850.0h0M756.3 808.3h0M639.1 834.8h0M628.9 792.3h0M475.5 973.5h0M576.2 777.2h0M656.0 798.4h0M580.5 772.6h0M642.8 847.2h0M580.6 802.2h0M625.0 794.5h0M673.5 810.5h0M670.7 741.1h0M456.2 981.4h0M656.6 834.8h0M591.2 777.6h0M479.0 1008.4h0" stroke="rgba(60,130,210,0.17)" stroke-width="3.3" stroke-linecap="round" fill="none"/>
<path d="M550.7 791.4h0M532.9 870.5h0M529.9 779.9h0M670.5 837.7h0M500.4 950.2h0M677.9 836.3h0M634.5 846.7h0M651.0 845.3h0M606.1 833.7h0M611.8 767.8h0M595.5 784.0h0M520.3 907.0h0M477.4 960.3h0M673.9 837.0h0M547.9 823.7h0M561.2 817.2h0M692.0 843.3h0M626.9 843.3h0M643.5 827.7h0M651.8 837.9h0M667.8 847.5h0M605.4 927.8h0M711.3 761.4h0M631.8 775.4h0M643.1 903.6h0M600.4 807.6h0M622.5 752.0h0M586.9 763.5h0M540.9 823.4h0M582.5 801.1h0M479.3 972.4h0M623.0 792.6h0M650.2 805.6h0M624.5 824.5h0M468.6 960.3h0M458.8 971.7h0M558.2 986.6h0M664.7 835.0h0M523.2 910.8h0M670.9 843.4h0M514.0 816.2h0M650.2 833.9h0M611.9 808.2h0M636.1 736.1h0M555.6 807.4h0M710.1 838.9h0M682.3 796.2h0M571.5 799.4h0M517.4 932.4h0M550.9 832.0h0M584.2 755.5h0M630.2 781.5h0M708.4 818.7h0M662.9 781.4h0M448.8 1004.2h0M639.8 836.0h0M667.4 980.6h0M503.9 931.7h0M451.1 969.1h0M494.0 931.9h0M751.4 804.1h0M607.5 834.8h0M489.4 973.2h0M499.0 953.6h0M472.7 954.8h0M671.1 799.2h0M689.4 807.8h0M521.0 1013.0h0M521.4 920.2h0M591.9 808.1h0M560.7 978.6h0M658.2 849.5h0M494.4 956.2h0M645.6 758.8h0M652.3 841.9h0M636.6 801.4h0M610.3 797.3h0M659.9 826.5h0M464.0 965.6h0M530.4 984.3h0M542.4 791.2h0M467.1 964.0h0M642.5 804.4h0M602.5 839.0h0M657.5 831.9h0M675.3 841.2h0M545.5 857.4h0M646.5 840.8h0M772.9 787.4h0M535.0 857.1h0M657.4 787.7h0M502.9 942.6h0M516.6 928.8h0M643.7 826.2h0M659.1 899.1h0M618.5 935.4h0M521.7 895.2h0M662.2 828.6h0M617.6 763.1h0M633.5 834.3h0M557.4 850.4h0M666.2 842.0h0M526.2 885.2h0M652.9 835.0h0M505.1 915.7h0M520.9 883.7h0M549.2 980.7h0M670.4 815.0h0M501.5 933.5h0M541.0 794.3h0M554.5 844.8h0M678.0 847.6h0M612.8 801.1h0M563.0 798.6h0M679.6 793.8h0M707.9 807.6h0M682.4 817.0h0M639.5 822.2h0M468.2 934.8h0M480.9 967.7h0M634.8 783.3h0M533.2 877.6h0M613.7 940.6h0M593.5 782.2h0M555.7 1015.4h0M446.5 1001.8h0M564.1 1008.3h0M651.9 849.1h0M576.5 788.3h0M680.1 876.4h0M653.7 811.9h0M705.8 820.1h0M611.1 828.0h0M659.9 840.0h0M690.6 822.1h0M501.5 949.8h0M612.5 839.9h0M671.6 816.5h0M612.6 806.6h0M595.3 978.0h0M519.8 912.2h0M538.9 760.2h0M517.3 916.4h0M617.8 828.3h0M663.2 844.6h0M638.6 815.0h0M501.7 920.3h0M480.4 958.0h0M658.4 812.7h0M461.7 982.0h0M521.3 921.1h0M578.8 795.7h0M685.6 799.7h0M526.9 990.0h0M504.7 944.8h0M577.3 764.1h0M675.8 826.2h0M642.9 746.5h0M517.6 926.5h0M620.7 828.2h0M553.4 730.4h0M579.1 766.8h0M761.4 787.8h0M579.8 796.5h0M488.0 974.3h0M548.4 803.2h0M676.7 840.8h0M641.9 821.5h0M631.9 846.7h0M579.3 980.3h0M619.9 789.0h0M678.9 840.4h0M555.2 800.0h0M688.4 860.9h0M672.2 827.5h0M658.7 842.1h0M625.4 797.5h0M532.8 859.0h0M572.9 777.0h0M694.1 798.1h0M512.8 925.8h0M477.8 972.0h0M512.3 854.3h0M607.7 971.4h0M704.5 772.9h0M621.0 844.0h0M486.7 977.5h0M528.9 864.5h0M657.6 828.9h0M463.1 974.3h0M508.0 938.4h0M632.2 838.3h0M693.4 822.2h0M541.4 809.8h0M661.6 847.4h0M643.1 948.0h0M684.3 815.8h0M620.4 752.4h0M592.5 785.2h0M719.4 835.0h0M673.2 845.9h0M639.2 755.8h0M635.3 786.4h0M609.1 826.4h0" stroke="rgba(60,130,210,0.33)" stroke-width="3.0" stroke-linecap="round" fill="none"/>
<path d="M656.5 819.0h0M617.8 819.4h0M710.4 813.7h0M465.0 939.9h0M610.9 812.2h0M486.4 996.9h0M474.7 966.2h0M695.1 809.7h0M632.5 829.3h0M745.4 812.8h0M522.7 900.9h0M674.7 824.7h0M687.3 796.5h0M664.5 905.0h0M524.1 990.0h0M659.7 791.8h0M599.9 814.7h0M605.2 820.5h0M684.3 782.6h0M626.0 813.2h0M651.6 804.7h0M572.8 794.3h0M505.6 940.4h0M633.9 849.1h0M645.4 898.1h0M616.4 835.0h0M521.3 854.2h0M458.5 963.9h0M562.4 805.7h0M638.7 850.2h0M688.9 810.9h0M755.9 763.5h0M678.4 815.0h0M695.3 842.7h0M640.4 775.1h0M506.7 918.0h0M604.1 740.5h0M685.9 796.1h0M629.9 828.0h0M651.7 900.3h0M612.2 926.4h0M516.9 924.2h0M461.6 1008.8h0M481.1 970.8h0M670.2 826.2h0M624.7 839.2h0M540.6 973.3h0M671.7 845.8h0M694.5 835.6h0M516.7 932.7h0M459.3 985.5h0M606.9 835.8h0M570.0 753.2h0M692.7 754.6h0M465.4 977.8h0M537.7 860.3h0M691.6 839.3h0M519.7 928.8h0M591.4 801.8h0M635.5 847.0h0M621.1 841.6h0M539.9 852.0h0M539.6 815.5h0M626.0 838.0h0M566.5 778.6h0M588.3 801.7h0M498.8 938.2h0M682.7 841.2h0M580.0 800.9h0M467.8 959.7h0M516.8 905.4h0M693.6 784.4h0M689.5 840.2h0M603.2 817.7h0M660.9 766.8h0M660.5 732.9h0M525.4 896.8h0M513.9 1008.1h0M650.9 816.2h0M677.1 821.0h0M674.5 827.9h0M607.0 829.6h0M601.7 755.1h0M620.2 780.8h0M624.6 831.0h0M636.7 849.6h0M547.0 990.1h0M664.3 839.8h0" stroke="rgba(60,130,210,0.58)" stroke-width="2.7" stroke-linecap="round" fill="none"/>
<path d="M446.4 991.7L454.3 991.7L471.0 972.6L487.7 990.9L492.5 972.6L498.8 959.8L504.4 952.0L505.2 945.0L519.5 931.3L522.7 915.4L529.0 896.3L533.8 880.4L553.7 866.1L558.5 850.2L557.5 834.0L560.7 818.2L570.2 805.4L586.9 804.6L600.4 819.0L602.0 840.4L619.5 845.2L638.6 850.8L667.2 850.0L687.1 846.0L690.3 850.0L683.1 869.0L676.7 881.8L670.4 889.7L657.7 891.3L641.8 899.3L622.7 915.2L602.0 929.5L605.4 945.4L593.4 977.5L586.3 980.4L579.9 975.4L569.6 967.3L551.3 969.8L529.0 974.5L503.6 988.8L487.7 992.8L471.0 1001.1L446.4 994.6Z" fill="#fff"/>
<path d="M446.4 991.7L454.3 991.7L471.0 972.6L487.7 990.9L492.5 972.6L498.8 959.8L504.4 952.0L505.2 945.0L519.5 931.3L522.7 915.4L529.0 896.3L533.8 880.4L553.7 866.1L558.5 850.2L557.5 834.0L560.7 818.2L570.2 805.4L586.9 804.6L600.4 819.0L602.0 840.4L619.5 845.2L638.6 850.8L667.2 850.0L687.1 846.0L690.3 850.0L683.1 869.0L676.7 881.8L670.4 889.7L657.7 891.3L641.8 899.3L622.7 915.2L602.0 929.5L605.4 945.4L593.4 977.5L586.3 980.4L579.9 975.4L569.6 967.3L551.3 969.8L529.0 974.5L503.6 988.8L487.7 992.8L471.0 1001.1L446.4 994.6Z" fill="rgba(30,144,255,.03)"/>
<rect x="562.38" y="906.20" width="16.82" height="16.05" fill="rgba(30,144,255,0.95)"/><rect x="579.00" y="906.20" width="16.82" height="16.05" fill="rgba(30,144,255,0.85)"/><rect x="545.75" y="906.20" width="16.82" height="16.05" fill="rgba(30,144,255,0.60)"/><rect x="545.75" y="922.05" width="16.82" height="16.05" fill="rgba(30,144,255,0.55)"/><rect x="529.12" y="922.05" width="16.82" height="16.05" fill="rgba(30,144,255,0.35)"/><rect x="529.12" y="937.90" width="16.82" height="16.05" fill="rgba(30,144,255,0.30)"/><rect x="562.38" y="890.35" width="16.82" height="16.05" fill="rgba(30,144,255,0.45)"/><rect x="579.00" y="890.35" width="16.82" height="16.05" fill="rgba(30,144,255,0.40)"/><rect x="595.62" y="890.35" width="16.82" height="16.05" fill="rgba(30,144,255,0.50)"/><rect x="545.75" y="890.35" width="16.82" height="16.05" fill="rgba(30,144,255,0.18)"/><rect x="562.38" y="874.50" width="16.82" height="16.05" fill="rgba(30,144,255,0.10)"/><rect x="579.00" y="874.50" width="16.82" height="16.05" fill="rgba(30,144,255,0.10)"/><rect x="595.62" y="874.50" width="16.82" height="16.05" fill="rgba(30,144,255,0.10)"/><rect x="612.25" y="874.50" width="16.82" height="16.05" fill="rgba(30,144,255,0.10)"/><rect x="628.88" y="874.50" width="16.82" height="16.05" fill="rgba(30,144,255,0.08)"/><rect x="562.38" y="922.05" width="16.82" height="16.05" fill="rgba(30,144,255,0.20)"/><rect x="512.50" y="937.90" width="16.82" height="16.05" fill="rgba(30,144,255,0.10)"/><rect x="512.50" y="953.75" width="16.82" height="16.05" fill="rgba(30,144,255,0.10)"/><rect x="612.25" y="890.35" width="16.82" height="16.05" fill="rgba(30,144,255,0.15)"/><rect x="529.12" y="906.20" width="16.82" height="16.05" fill="rgba(30,144,255,0.12)"/><rect x="579.00" y="922.05" width="16.82" height="16.05" fill="rgba(30,144,255,0.08)"/>
<path d="M446.4 991.7L454.3 991.7L471.0 972.6L487.7 990.9L492.5 972.6L498.8 959.8L504.4 952.0L505.2 945.0L519.5 931.3L522.7 915.4L529.0 896.3L533.8 880.4L553.7 866.1L558.5 850.2L557.5 834.0L560.7 818.2L570.2 805.4L586.9 804.6L600.4 819.0L602.0 840.4L619.5 845.2L638.6 850.8L667.2 850.0L687.1 846.0L690.3 850.0L683.1 869.0L676.7 881.8L670.4 889.7L657.7 891.3L641.8 899.3L622.7 915.2L602.0 929.5L605.4 945.4L593.4 977.5L586.3 980.4L579.9 975.4L569.6 967.3L551.3 969.8L529.0 974.5L503.6 988.8L487.7 992.8L471.0 1001.1L446.4 994.6ZM587.0 844.5L594.1 853.9L606.8 862.7L620.3 867.5L637.0 859.5L657.7 866.7L653.7 872.2L649.7 883.4L635.4 894.5L622.7 905.6L603.6 923.1L587.7 931.0L570.2 941.4L554.3 945.5L537.0 959.9L520.3 969.5L511.6 959.9L510.0 945.6L525.9 928.1L529.0 912.2L538.6 896.3L551.3 880.4L567.2 866.1L571.0 855.0L577.4 849.2ZM535.4 948.0L530.6 942.4L533.0 928.1L543.4 912.2L553.7 897.9L568.6 889.7L586.7 881.9L603.6 889.7L620.3 898.2L600.4 907.2L594.1 921.5L581.3 924.7L562.3 931.8L556.1 937.7Z" fill="none" stroke="#2c86d8" stroke-width="2.6" stroke-linejoin="round"/>
<path d="M578.6 1033.0V716.0M446.0 903.8H778.5" stroke="#000" stroke-width="2.0" stroke-dasharray="7.5 3.55" fill="none"/>
<rect x="569.2" y="894.4" width="18.8" height="18.8" fill="#000"/>
</g>
<ellipse cx="589.4" cy="945.7" rx="6" ry="1.4" fill="#2c86d8" stroke="#2c86d8" stroke-width="1.6"/>
<path d="M486.8 1033.0v-14.5M560.5 1033.0v-14.5M634.2 1033.0v-14.5M708.0 1033.0v-14.5M446.0 775.5h14.5M446.0 854.6h14.5M446.0 933.7h14.5M446.0 1013.2h14.5" stroke="#000" stroke-width="1.6" fill="none"/>
<rect x="446.0" y="716.0" width="332.5" height="317.0" fill="none" stroke="#000" stroke-width="2.2"/>
<text transform="translate(138.6 1073.3) rotate(-45)" font-size="21.3" text-anchor="middle" dominant-baseline="central">-0.30</text>
<text transform="translate(231.2 1073.3) rotate(-45)" font-size="21.3" text-anchor="middle" dominant-baseline="central">-0.15</text>
<text transform="translate(323.4 1070.6) rotate(-45)" font-size="21.3" text-anchor="middle" dominant-baseline="central">0.00</text>
<text transform="translate(415.8 1070.6) rotate(-45)" font-size="21.3" text-anchor="middle" dominant-baseline="central">0.15</text>
<text transform="translate(485.3 1068.4) rotate(-45)" font-size="21.3" text-anchor="middle" dominant-baseline="central">200</text>
<text transform="translate(559.0 1068.4) rotate(-45)" font-size="21.3" text-anchor="middle" dominant-baseline="central">400</text>
<text transform="translate(632.7 1068.4) rotate(-45)" font-size="21.3" text-anchor="middle" dominant-baseline="central">600</text>
<text transform="translate(706.5 1068.4) rotate(-45)" font-size="21.3" text-anchor="middle" dominant-baseline="central">800</text>
<text transform="translate(813.7 1059.0) rotate(-45)" font-size="21.3" text-anchor="middle" dominant-baseline="central">0</text>
<text transform="translate(896.8 1059.0) rotate(-45)" font-size="21.3" text-anchor="middle" dominant-baseline="central">2</text>
<text transform="translate(979.8 1059.0) rotate(-45)" font-size="21.3" text-anchor="middle" dominant-baseline="central">4</text>
<text transform="translate(1062.9 1059.0) rotate(-45)" font-size="21.3" text-anchor="middle" dominant-baseline="central">6</text>
<text transform="translate(60.6 462.3) rotate(-45)" font-size="21.3" text-anchor="middle" dominant-baseline="central">800</text>
<text transform="translate(60.6 533.1) rotate(-45)" font-size="21.3" text-anchor="middle" dominant-baseline="central">600</text>
<text transform="translate(60.6 603.4) rotate(-45)" font-size="21.3" text-anchor="middle" dominant-baseline="central">400</text>
<text transform="translate(60.6 673.8) rotate(-45)" font-size="21.3" text-anchor="middle" dominant-baseline="central">200</text>
<text transform="translate(70.1 778.8) rotate(-45)" font-size="21.3" text-anchor="middle" dominant-baseline="central">6</text>
<text transform="translate(70.1 857.9) rotate(-45)" font-size="21.3" text-anchor="middle" dominant-baseline="central">4</text>
<text transform="translate(70.1 937.0) rotate(-45)" font-size="21.3" text-anchor="middle" dominant-baseline="central">2</text>
<text transform="translate(70.1 1016.5) rotate(-45)" font-size="21.3" text-anchor="middle" dominant-baseline="central">0</text>
<text x="88.3" y="32.4" font-size="29" font-style="italic">t</text>
<text x="99.4" y="36.8" font-size="20.3">0</text>
<text x="122.8" y="32.4" font-size="29">-</text>
<text x="142.6" y="32.4" font-size="29">82.818</text>
<text x="253.0" y="32.4" font-size="29">=</text>
<text x="286.9" y="32.4" font-size="29">−0.03</text>
<text x="376.6" y="20.4" font-size="20.3">+0.02</text>
<text x="376.6" y="40.4" font-size="20.3">−0.05</text>
<text x="505.0" y="365.0" font-size="29" font-style="italic">R</text>
<text x="524.7" y="369.4" font-size="20.3">star</text>
<text x="573.6" y="365.0" font-size="29">=</text>
<text x="608.5" y="365.0" font-size="29">442</text>
<text x="664.7" y="354.1" font-size="20.3">+112</text>
<text x="665.1" y="373.0" font-size="20.3">−98</text>
<text x="863.8" y="698.8" font-size="29" font-style="italic">τ</text>
<text x="882.7" y="703.2" font-size="20.3" font-style="italic">r</text>
<text x="899.8" y="698.8" font-size="29">=</text>
<text x="933.3" y="698.8" font-size="29">2.77</text>
<text x="996.1" y="687.2" font-size="20.3">+1.01</text>
<text x="996.1" y="707.0" font-size="20.3">−0.99</text>
<text x="136.4" y="1126.0" font-size="29" font-style="italic">t</text>
<text x="147.3" y="1130.4" font-size="20.3">0</text>
<text x="170.8" y="1126.0" font-size="29">-</text>
<text x="190.5" y="1126.0" font-size="29">82.818</text>
<text x="300.9" y="1126.0" font-size="29">(days)</text>
<text x="543.3" y="1126.0" font-size="29" font-style="italic">R</text>
<text x="563.2" y="1130.4" font-size="20.3">star</text>
<text x="612.4" y="1126.0" font-size="29">(/</text>
<text x="634.1" y="1126.0" font-size="29" font-style="italic">R</text>
<text x="653.8" y="1130.4" font-size="20.3">⊙</text>
<text x="670.9" y="1126.0" font-size="29">)</text>
<text x="946.6" y="1112.3" font-size="29" font-style="italic">τ</text>
<text x="964.2" y="1116.7" font-size="20.3" font-style="italic">r</text>
<text transform="translate(26.7 609.3) rotate(-90)" x="-1.0" y="0.0" font-size="29" font-style="italic">R</text>
<text transform="translate(26.7 609.3) rotate(-90)" x="18.9" y="4.4" font-size="20.3">star</text>
<text transform="translate(26.7 609.3) rotate(-90)" x="68.1" y="0.0" font-size="29">(/</text>
<text transform="translate(26.7 609.3) rotate(-90)" x="89.8" y="0.0" font-size="29" font-style="italic">R</text>
<text transform="translate(26.7 609.3) rotate(-90)" x="109.5" y="4.4" font-size="20.3">⊙</text>
<text transform="translate(26.7 609.3) rotate(-90)" x="126.6" y="0.0" font-size="29">)</text>
<text transform="translate(47.4 885.6) rotate(-90)" x="-3.0" y="0.0" font-size="29" font-style="italic">τ</text>
<text transform="translate(47.4 885.6) rotate(-90)" x="14.6" y="4.4" font-size="20.3" font-style="italic">r</text>
</svg>
</body></html>
